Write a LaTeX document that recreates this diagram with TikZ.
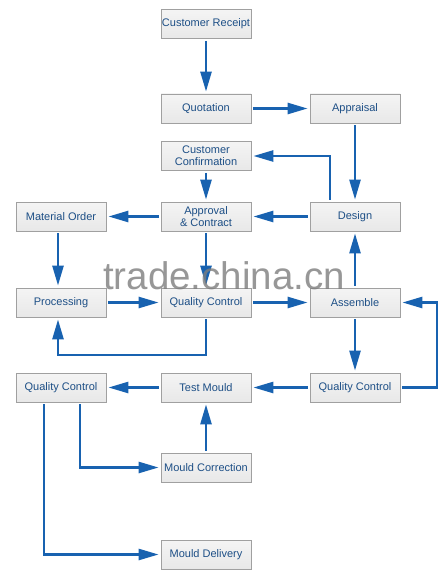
\documentclass[tikz,border=0pt]{standalone}
\usepackage{fontspec}
\setmainfont{Liberation Sans}
\usetikzlibrary{arrows.meta}
\definecolor{boxline}{HTML}{A0A0A0}
\definecolor{boxfill}{HTML}{E8E8E8}
\definecolor{boxtop}{HTML}{F4F4F4}
\definecolor{txt}{HTML}{1D4F86}
\definecolor{arr}{HTML}{1862B0}
\definecolor{wm}{HTML}{7E7E7E}
\tikzset{
  box/.style={draw=boxline, line width=0.8pt, top color=boxtop, bottom color=boxfill,
    minimum width=90pt, minimum height=29pt, inner xsep=0pt, inner ysep=1pt, align=center,
    text=txt, font=\fontsize{11}{11.8}\selectfont},
  flow/.style={draw=arr, line width=2.5pt, -{Triangle[length=20pt,width=11pt]}, shorten >=2pt, shorten <=2pt}
}
\begin{document}
\begin{tikzpicture}[x=1pt,y=-1pt]
\useasboundingbox (0,0) rectangle (446,583);
\fill[white] (0,0) rectangle (446,583);
% nodes
\node[box] (cr)  at (206,24)    {Customer Receipt};
\node[box] (quo) at (206,108.5) {Quotation};
\node[box] (app) at (355,108.5) {Appraisal};
\node[box] (cc)  at (206,156)   {Customer\\Confirmation};
\node[box] (mo)  at (61,216.5)  {Material Order};
\node[box] (ac)  at (206,216.5) {Approval\\\&\ Contract};
\node[box] (des) at (355,216.5) {Design};
\node[box] (pro) at (61,302.5)  {Processing};
\node[box] (qc1) at (206,302.5) {Quality Control};
\node[box] (asm) at (355,302.5) {Assemble};
\node[box] (qcl) at (61,387.5)  {Quality Control};
\node[box] (tm)  at (206,387.5) {Test Mould};
\node[box] (qcr) at (355,387.5) {Quality Control};
\node[box] (mc)  at (206,467.5) {Mould Correction};
\node[box] (md)  at (206,554.5) {Mould Delivery};
% connectors
\draw[flow] (cr) -- (quo);
\draw[flow] (quo) -- (app);
\draw[flow] (app) -- (des);
\draw[flow] (des.north -| 330,0) |- (cc.east);
\draw[flow] (cc) -- (ac);
\draw[flow] (des) -- (ac);
\draw[flow] (ac) -- (mo);
\draw[flow] (mo.south -| 58,0) -- (pro.north -| 58,0);
\draw[flow] (ac) -- (qc1);
\draw[flow] (pro) -- (qc1);
\draw[flow] (qc1) -- (asm);
\draw[flow] (asm) -- (des);
\coordinate (q1b) at (206,355);
\draw[flow] (qc1.south) -- (q1b) -| (pro.south -| 58,0);
\draw[flow] (asm) -- (qcr);
\coordinate (rr) at (437,387.5);
\draw[flow] (qcr.east) -- (rr) |- (asm.east);
\draw[flow] (qcr) -- (tm);
\draw[flow] (tm) -- (qcl);
\draw[flow] (mc) -- (tm);
\draw[flow] (qcl.south -| 80,0) |- (mc.west);
\draw[flow] (qcl.south -| 44,0) |- (md.west);
% watermark
\node[text=wm, opacity=0.8, font=\fontsize{38.5}{40}\selectfont, inner sep=0pt] (wmk) at (224,276) {trade.china.cn};
\end{tikzpicture}
\end{document}
